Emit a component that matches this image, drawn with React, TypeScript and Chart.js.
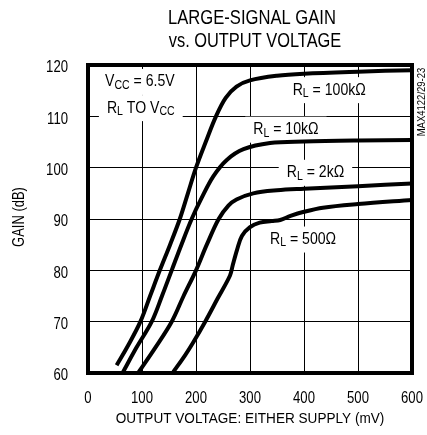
import React, { useEffect, useRef } from 'react';
import { Chart, registerables } from 'chart.js';

Chart.register(...registerables);

const FONT = "'Liberation Sans', Arial, sans-serif";

// ---- text ----
const titleLines = ['LARGE-SIGNAL GAIN', 'vs. OUTPUT VOLTAGE'];
const xAxisTitle = 'OUTPUT VOLTAGE: EITHER SUPPLY (mV)';
const yAxisTitle = 'GAIN (dB)';
const figureId = 'MAX4122/29-23';

// ---- axes ----
const xMin = 0;
const xMax = 600;
const xStep = 100;
const yMin = 60;
const yMax = 120;
const yStep = 10;
const xTickLabels = ['0', '100', '200', '300', '400', '500', '600'];
const yTickLabels = ['60', '70', '80', '90', '100', '110', '120'];

// ---- series (output voltage mV, gain dB) ----
const mv100k = [53, 75, 97, 115, 133, 152, 170, 185, 200, 218, 237, 255, 275, 300, 350, 400, 500, 600];
const gain100k = [61.5, 65.5, 70, 75, 80, 85, 90, 95, 100, 105, 110, 113.6, 115.8, 117.0, 117.9, 118.3, 118.7, 119];

const mv10k = [65, 90, 118, 137, 155, 173, 192, 210, 232, 257, 288, 337, 400, 500, 600];
const gain10k = [60.2, 65, 70, 75, 80, 85, 90, 94, 98.3, 101.5, 103.6, 104.8, 105.1, 105.3, 105.4];

const mv2k = [94, 125, 155, 177, 200, 220, 242, 260, 275, 306, 350, 400, 500, 600];
const gain2k = [60.2, 65, 70, 75, 80, 85, 90, 92.6, 93.8, 95.0, 95.6, 95.9, 96.4, 96.9];

const mv500 = [158, 180, 195, 217, 240, 263, 268, 276, 285, 300, 318, 340, 356, 375, 400, 435, 500, 600];
const gain500 = [60.2, 63.5, 66, 70, 74.5, 79, 81, 84, 86.7, 88.4, 89.3, 89.6, 89.8, 90.6, 91.4, 92.2, 92.9, 93.7];

// ---- in-plot labels: segments [text, isSubscript] ----
type Seg = [string, boolean];
const labelTexts: Seg[][] = [
  [['V', false], ['CC', true], [' = 6.5V', false]],
  [['R', false], ['L', true], [' TO V', false], ['CC', true]],
  [['R', false], ['L', true], [' = 100kΩ', false]],
  [['R', false], ['L', true], [' = 10kΩ', false]],
  [['R', false], ['L', true], [' = 2kΩ', false]],
  [['R', false], ['L', true], [' = 500Ω', false]],
];
// anchor (left edge, vertical middle) in data units
const labelX = [31.5, 35, 379, 306, 368, 337];
const labelY = [116.7, 111.6, 115.1, 107.4, 99.0, 86.0];

const toPts = (xs: number[], ys: number[]) => xs.map((x, i) => ({ x, y: ys[i] }));

// draw horizontally condensed text
function narrowText(ctx: CanvasRenderingContext2D, t: string, x: number, y: number, size: number, sx: number, align: CanvasTextAlign) {
  ctx.font = `${size}px ${FONT}`;
  const w = ctx.measureText(t).width * sx;
  const left = align === 'center' ? x - w / 2 : align === 'right' ? x - w : x;
  ctx.save();
  ctx.translate(left, y);
  ctx.scale(sx, 1);
  ctx.textAlign = 'left';
  ctx.fillText(t, 0, 0);
  ctx.restore();
  return w;
}

const LABEL_SX = 0.88;
function drawRich(ctx: CanvasRenderingContext2D, segs: Seg[], x: number, y: number, size: number, draw: boolean) {
  let cx = x;
  for (const [t, sub] of segs) {
    const s = sub ? Math.round(size * 0.78) : size;
    ctx.font = `${s}px ${FONT}`;
    const w = ctx.measureText(t).width * LABEL_SX;
    if (draw) narrowText(ctx, t, cx, y + (sub ? size * 0.22 : 0), s, LABEL_SX, 'left');
    cx += w;
  }
  return cx - x;
}

const overlayPlugin = {
  id: 'overlay',
  beforeDatasetsDraw(chart: any) {
    const ctx: CanvasRenderingContext2D = chart.ctx;
    const xs = chart.scales.x;
    const ys = chart.scales.y;
    ctx.save();
    ctx.textBaseline = 'middle';
    const size = 16;
    labelTexts.forEach((segs, i) => {
      const px = xs.getPixelForValue(labelX[i]);
      const py = ys.getPixelForValue(labelY[i]);
      const w = drawRich(ctx, segs, px, py, size, false);
      ctx.fillStyle = '#fff';
      ctx.fillRect(px - 8, py - 13, w + 16, 26);
    });
    ctx.fillStyle = '#000';
    labelTexts.forEach((segs, i) => {
      const px = xs.getPixelForValue(labelX[i]);
      const py = ys.getPixelForValue(labelY[i]);
      drawRich(ctx, segs, px, py, size, true);
    });
    ctx.restore();
  },
  afterDatasetsDraw(chart: any) {
    const ctx: CanvasRenderingContext2D = chart.ctx;
    const a = chart.chartArea;
    ctx.save();
    ctx.strokeStyle = '#000';
    ctx.lineWidth = 4;
    ctx.strokeRect(a.left, a.top, a.right - a.left, a.bottom - a.top);
    ctx.restore();
  },
  afterDraw(chart: any) {
    const ctx: CanvasRenderingContext2D = chart.ctx;
    const a = chart.chartArea;
    const xs = chart.scales.x;
    const ys = chart.scales.y;
    const cx = (a.left + a.right) / 2;
    ctx.save();
    ctx.fillStyle = '#000';
    ctx.textBaseline = 'alphabetic';
    // titles
    narrowText(ctx, titleLines[0], cx + 2, 24, 20, 0.83, 'center');
    narrowText(ctx, titleLines[1], cx + 5, 47, 20, 0.82, 'center');
    // tick labels
    xTickLabels.forEach((t, i) => {
      narrowText(ctx, t, xs.getPixelForValue(xMin + i * xStep), 403, 16, 0.82, 'center');
    });
    ctx.textBaseline = 'middle';
    yTickLabels.forEach((t, i) => {
      narrowText(ctx, t, 68, ys.getPixelForValue(yMin + i * yStep) + 3, 16, 0.82, 'right');
    });
    // axis titles
    ctx.textBaseline = 'alphabetic';
    narrowText(ctx, xAxisTitle, cx, 423, 14, 0.97, 'center');
    ctx.save();
    ctx.translate(20, 217);
    ctx.rotate(-Math.PI / 2);
    ctx.textBaseline = 'middle';
    narrowText(ctx, yAxisTitle, 0, 0, 16, 0.81, 'center');
    ctx.restore();
    ctx.save();
    ctx.translate(422, 102);
    ctx.rotate(-Math.PI / 2);
    ctx.textBaseline = 'middle';
    narrowText(ctx, figureId, 0, 0, 10, 0.95, 'center');
    ctx.restore();
    ctx.restore();
  },
};

export default function App() {
  const ref = useRef<HTMLCanvasElement>(null);
  useEffect(() => {
    if (!ref.current) return;
    const line = (data: { x: number; y: number }[]) => ({
      data,
      borderColor: '#000',
      borderWidth: 4,
      pointRadius: 0,
      tension: 0.35,
      borderCapStyle: 'butt' as const,
      fill: false,
    });
    const chart = new Chart(ref.current, {
      type: 'line',
      data: {
        datasets: [
          line(toPts(mv100k, gain100k)),
          line(toPts(mv10k, gain10k)),
          line(toPts(mv2k, gain2k)),
          line(toPts(mv500, gain500)),
        ],
      },
      options: {
        animation: false,
        responsive: false,
        devicePixelRatio: 1,
        layout: { padding: { top: 65, right: 15, left: 0, bottom: 0 } },
        plugins: {
          legend: { display: false },
          title: { display: false },
          tooltip: { enabled: false },
        },
        scales: {
          x: {
            type: 'linear',
            min: xMin,
            max: xMax,
            ticks: { stepSize: xStep, display: false },
            grid: { color: '#000', lineWidth: 1, drawTicks: false },
            border: { display: false },
            afterFit: (s: any) => { s.height = 62; },
          },
          y: {
            type: 'linear',
            min: yMin,
            max: yMax,
            ticks: { stepSize: yStep, display: false },
            grid: { color: '#000', lineWidth: 1, drawTicks: false },
            border: { display: false },
            afterFit: (s: any) => { s.width = 88; },
          },
        },
      } as any,
      plugins: [overlayPlugin],
    });
    return () => chart.destroy();
  }, []);
  return (
    <div style={{ position: 'fixed', left: 0, top: 0, width: 427, height: 435, background: '#fff' }}>
      <canvas ref={ref} width={427} height={435} />
    </div>
  );
}
